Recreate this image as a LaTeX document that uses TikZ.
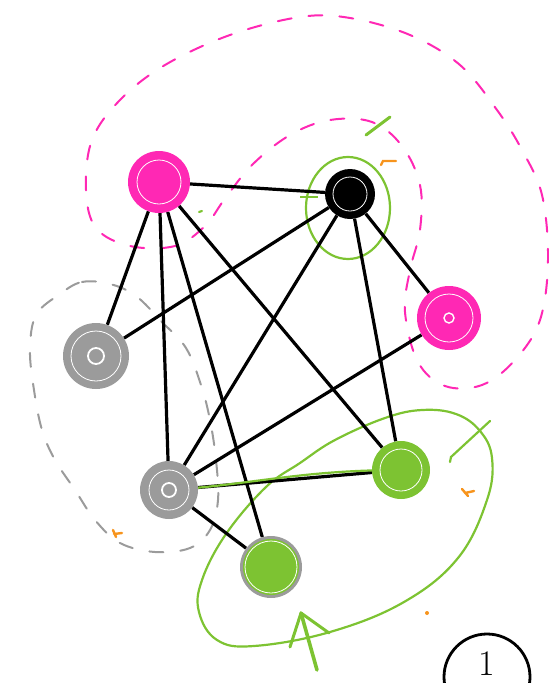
\documentclass[tikz,border=0pt]{standalone}
\usetikzlibrary{arrows.meta}
\definecolor{mag}{RGB}{255,40,180}
\definecolor{grn}{RGB}{125,195,50}
\definecolor{gry}{RGB}{155,155,155}
\definecolor{org}{RGB}{247,148,29}
\begin{document}
\begin{tikzpicture}[x=1pt,y=-1pt,
  vert/.style={circle,inner sep=0pt,minimum size=#1},
  edge/.style={line width=3.2pt,black},
  hull/.style={line width=2pt,dash pattern=on 14pt off 17pt,line cap=round},
  ring/.style={line width=2.2pt,grn},
  scrib/.style={white,line width=0.8pt}]
\useasboundingbox (0,0) rectangle (549,683);

% vertices (placed first for names)
\node[vert=62pt] (m1) at (159,182) {};
\node[vert=50pt] (k)  at (350,194) {};
\node[vert=64pt] (m2) at (449,318) {};
\node[vert=66pt] (g1) at (96,356) {};
\node[vert=58pt] (g2) at (169,490) {};
\node[vert=58pt] (r1) at (401,470) {};
\node[vert=62pt] (r2) at (271,567) {};

% hulls
\draw[hull,mag] plot[smooth cycle,tension=0.6] coordinates{
 (205,226) (175,246) (130,246) (96,228) (86,190) (92,140) (120,100) (165,65)
 (230,35) (300,17) (350,18) (410,35) (460,65) (497,110) (522,150) (542,195)
 (548,260) (540,320) (515,360) (482,385) (445,386) (418,362) (405,312)
 (410,270) (420,230) (420,185) (402,146) (372,122) (330,120) (290,135)
 (252,165) (224,200)};
\draw[hull,gry] plot[smooth cycle,tension=0.6] coordinates{
 (60,294) (82,282) (110,284) (136,296) (162,322) (186,348) (201,385)
 (210,420) (216,460) (218,500) (210,530) (190,548) (155,552) (120,543)
 (95,520) (75,490) (55,460) (42,430) (34,390) (30,350) (36,315)};
\draw[ring] plot[smooth cycle,tension=0.65] coordinates{
 (266,487) (300,463) (335,440) (385,418) (422,410) (456,414) (480,431)
 (492,458) (487,500) (458,558) (404,602) (330,632) (254,646) (217,640)
 (199,612) (202,580) (226,534)};
\draw[ring] (348,208) ellipse [x radius=42,y radius=51];
\draw[ring] (300,197) -- (318,197);

% edges
\draw[edge] (m1) -- (k);
\draw[edge] (m1) -- (g1);
\draw[edge] (m1) -- (g2);
\draw[edge] (m1) -- (r2);
\draw[edge] (m1) -- (r1);
\draw[edge] (k) -- (g1);
\draw[edge] (k) -- (g2);
\draw[edge] (k) -- (m2);
\draw[edge] (k) -- (r1);
\draw[edge] (m2) -- (g2);
\draw[edge] (g2) -- (r1);
\draw[edge] (g2) -- (r2);
\draw[ring] (g2.center) .. controls (250,485) and (300,470) .. (r1.center);

% vertex fills
\fill[mag] (m1) circle (31);
\fill[black] (k) circle (25);
\fill[mag] (m2) circle (32);
\fill[gry] (g1) circle (33);
\fill[gry] (g2) circle (29);
\fill[grn] (r1) circle (29);
\fill[gry] (r2) circle (31);
\fill[grn] (r2) circle (28);
\draw[scrib] (m1) circle (22);
\draw[scrib] (k) circle (17);
\draw[scrib] (m2) circle (24);
\draw[scrib] (g1) circle (25);
\draw[scrib] (g2) circle (20);
\draw[scrib] (r1) circle (21);
\draw[scrib] (r2) circle (26);
\draw[white,line width=1.8pt] (g1) circle (8);
\draw[white,line width=1.8pt] (g2) circle (7);
\draw[white,line width=1.4pt] (m2) circle (5);

% green arrow
\coordinate (tip) at (301,613);
\coordinate (tail) at (317,670);
\draw[grn,line width=3.6pt,line cap=round] (tail) -- (tip);
\draw[grn,line width=3pt,line cap=round,line join=round] (290,647) -- (tip) -- (329,633);

% marks
\draw[grn,line width=3pt,line cap=round] (366,135) -- (390,117);
\draw[grn,line width=2.2pt,line cap=round] (450,462) -- (451,457) -- (490,421);
\draw[grn,line width=2.2pt,line cap=round] (199,212) -- (202,211);
\draw[org,line width=2.4pt,line cap=round] (381,165) -- (383,161) -- (396,161);
\draw[org,line width=2.4pt,line cap=round] (462,489) -- (468,496) (465,493) -- (474,491);
\draw[org,line width=2.4pt,line cap=round] (113,530) -- (116,537) (114,534) -- (122,533);
\fill[org] (427,613) circle (2);

% numbered circle
\node[inner sep=0pt] (one) at (487,664) {\fontsize{36}{36}\selectfont 1};
\draw[line width=2.8pt] (487,677) circle (43);
\end{tikzpicture}
\end{document}
